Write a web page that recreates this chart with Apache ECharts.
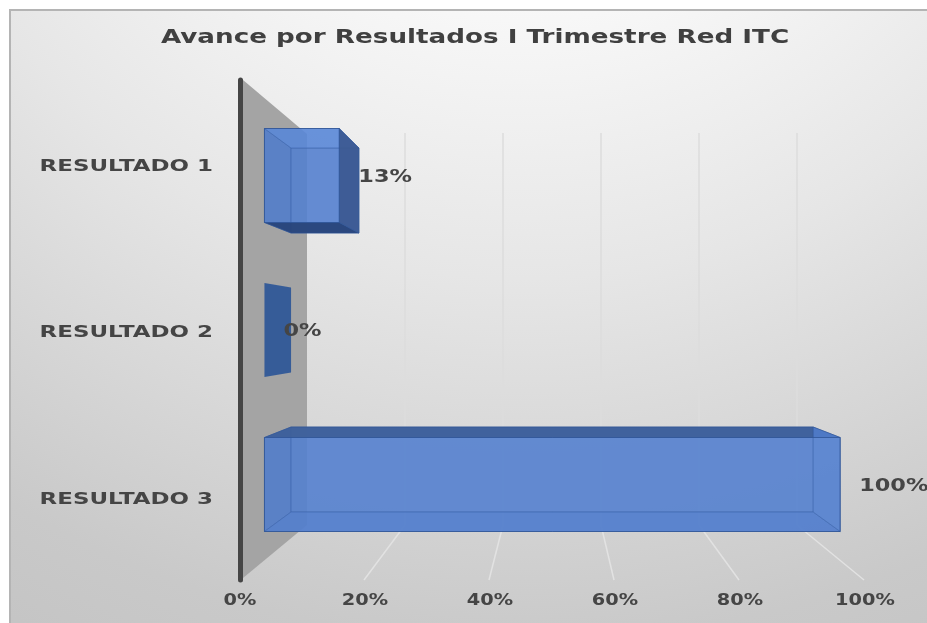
<!DOCTYPE html>
<html>
<head>
<meta charset="utf-8">
<style>html,body{margin:0;padding:0;background:#fff;overflow:hidden}#c{width:927px;height:623px}</style>
<script src="https://cdn.jsdelivr.net/npm/echarts@6/dist/echarts.min.js"></script>
</head>
<body>
<div id="c"></div>
<script>
const titleText = 'Avance por Resultados I Trimestre Red ITC';
const categories = ['RESULTADO 1', 'RESULTADO 2', 'RESULTADO 3'];
const values = [13, 0, 100];
const valueLabels = ['13%', '0%', '100%'];
const ticks = [0, 20, 40, 60, 80, 100];
const tickLabels = ['0%', '20%', '40%', '60%', '80%', '100%'];

const FONT = '"DejaVu Sans", sans-serif';
const INK = '#454545';
const NEAR = 0.365, FAR = 0.762;      // depth of the bar's two planes between front and back

function backX(px, c) { return c.x + 67 + (px - c.x) * 0.784; }
function depthX(px, c, t) { return px + (backX(px, c) - px) * t; }

function stretchedText(x, y, text, size, align, stretch) {
  return { type: 'text', x, y, scaleX: stretch, z2: 50,
    style: { text, x: 0, y: 0, fill: INK, font: 'bold ' + size + 'px ' + FONT,
      align: align, verticalAlign: 'middle' } };
}

function renderWall(params, api) {
  const c = params.coordSys;
  const x0 = c.x + 3, x1 = c.x + 67;
  return { type: 'polygon', silent: true,
    shape: { points: [[x0, c.y], [x1, c.y + 54], [x1, c.y + 445], [x0, c.y + c.height - 2]] },
    style: { fill: '#a4a4a4' } };
}

function renderFloorLine(params, api) {
  const c = params.coordSys;
  const px = api.coord([api.value(0), 0])[0];
  if (api.value(0) === 0) return { type: 'group', children: [] };
  return { type: 'line', silent: true,
    shape: { x1: backX(px, c), y1: c.y + 445, x2: px - 1, y2: c.y + c.height },
    style: { stroke: '#e2e2e2', lineWidth: 1.5 } };
}

function renderTickLabel(params, api) {
  const c = params.coordSys;
  const px = api.coord([api.value(0), 0])[0];
  return stretchedText(px, c.y + c.height + 21, tickLabels[params.dataIndex], 15, 'center', 1.29);
}

function renderCatLabel(params, api) {
  const c = params.coordSys;
  const p = api.coord([0, params.dataIndex]);
  return stretchedText(c.x - 27, p[1] + 3, categories[params.dataIndex], 16.5, 'right', 1.39);
}

function renderBar(params, api) {
  const c = params.coordSys;
  const v = api.value(0), cat = params.dataIndex;
  const start = api.coord([0, cat]), end = api.coord([v, cat]);
  const band = api.size([0, 1])[1];
  const midY = c.y + c.height / 2;
  const yAt = (k, h) => [midY + (start[1] - midY) * k - band * h, midY + (start[1] - midY) * k + band * h];
  const nearY = yAt(0.927, 0.282), farY = yAt(0.837, 0.255);
  const nl = depthX(start[0], c, NEAR), nr = depthX(end[0], c, NEAR);
  const fl = depthX(start[0], c, FAR), fr = depthX(end[0], c, FAR);
  const edge = 'rgba(47,85,151,0.55)';
  const face = (pts, fill, stroke) => ({ type: 'polygon', silent: true, shape: { points: pts },
    style: { fill, stroke: stroke || edge, lineWidth: 1 } });
  const kids = [];
  kids.push(face([[nl, nearY[0]], [fl, farY[0]], [fl, farY[1]], [nl, nearY[1]]],
    v ? 'rgba(72,116,196,0.8)' : 'rgba(48,88,152,0.95)', v ? null : 'rgba(0,0,0,0)'));
  if (v) {
    kids.push(face([[fl, farY[0]], [fr, farY[0]], [fr, farY[1]], [fl, farY[1]]], 'rgba(84,126,202,0.85)'));
    kids.push(face([[nl, nearY[1]], [nr, nearY[1]], [fr, farY[1]], [fl, farY[1]]],
      cat === 0 ? 'rgba(40,68,122,0.95)' : 'rgba(80,122,200,0.9)'));
    kids.push(face([[nl, nearY[0]], [nr, nearY[0]], [fr, farY[0]], [fl, farY[0]]],
      cat === 2 ? 'rgba(62,96,154,0.95)' : 'rgba(90,136,216,0.85)'));
    kids.push(face([[nr, nearY[0]], [fr, farY[0]], [fr, farY[1]], [nr, nearY[1]]],
      cat === 0 ? 'rgba(60,90,146,0.95)' : 'rgba(80,124,204,0.85)'));
    kids.push(face([[nl, nearY[0]], [nr, nearY[0]], [nr, nearY[1]], [nl, nearY[1]]],
      'rgba(90,134,214,0.35)', 'rgba(47,85,151,0.8)'));
  }
  kids.push(stretchedText(nr + 19, (nearY[0] + nearY[1]) / 2 + 1.5, valueLabels[cat], 17.5, 'left', 1.28));
  return { type: 'group', children: kids };
}

const chart = echarts.init(document.getElementById('c'), null, { renderer: 'canvas' });
chart.setOption({
  animation: false,
  backgroundColor: '#ffffff',
  graphic: [
    { type: 'rect', z: -10, silent: true, shape: { x: 10, y: 10, width: 930, height: 630 },
      style: { stroke: '#b4b4b4', lineWidth: 2,
        fill: { type: 'radial', x: 0.55, y: -0.6, r: 1.8, colorStops: [
          { offset: 0.33, color: '#f8f8f8' }, { offset: 0.57, color: '#e6e6e6' },
          { offset: 0.89, color: '#c9c9c9' }, { offset: 1, color: '#c4c4c4' } ] } } },
    { type: 'text', x: 475, y: 38, scaleX: 1.31, z: 10,
      style: { text: titleText, x: 0, y: 0, fill: '#404040', font: 'bold 20px ' + FONT, align: 'center', verticalAlign: 'middle' } }
  ],
  grid: [
    { left: 240, width: 625, top: 80, height: 500 },
    { left: 307, width: 490, top: 133, height: 392 }
  ],
  xAxis: [
    { type: 'value', gridIndex: 0, min: 0, max: 100, interval: 20,
      axisLine: { show: false }, axisTick: { show: false }, axisLabel: { show: false }, splitLine: { show: false } },
    { type: 'value', gridIndex: 1, min: 0, max: 100, interval: 20,
      axisLine: { show: false }, axisTick: { show: false }, axisLabel: { show: false },
      splitLine: { show: true, showMinLine: false, lineStyle: { color: '#dcdcdc', width: 1.5 } } }
  ],
  yAxis: [
    { type: 'category', gridIndex: 0, inverse: true, data: categories,
      axisLine: { show: true, onZero: false, lineStyle: { color: '#454545', width: 5 } },
      axisTick: { show: false }, axisLabel: { show: false }, splitLine: { show: false } },
    { type: 'category', gridIndex: 1, inverse: true, data: categories, show: false }
  ],
  series: [
    { type: 'custom', name: 'wall', coordinateSystem: 'cartesian2d', xAxisIndex: 0, yAxisIndex: 0, z: 1,
      silent: true, data: [[0, 0]], renderItem: renderWall, clip: false },
    { type: 'custom', name: 'floor', coordinateSystem: 'cartesian2d', xAxisIndex: 0, yAxisIndex: 0, z: 1,
      silent: true, data: ticks.map(t => [t, 0]), encode: { x: 0, y: 1 }, renderItem: renderFloorLine, clip: false },
    { type: 'custom', name: 'Avance', coordinateSystem: 'cartesian2d', xAxisIndex: 0, yAxisIndex: 0, z: 3,
      silent: true, data: values.map((v, i) => [v, i]), encode: { x: 0, y: 1 }, renderItem: renderBar, clip: false },
    { type: 'custom', name: 'tickLabels', coordinateSystem: 'cartesian2d', xAxisIndex: 0, yAxisIndex: 0, z: 4,
      silent: true, data: ticks.map(t => [t, 0]), encode: { x: 0, y: 1 }, renderItem: renderTickLabel, clip: false },
    { type: 'custom', name: 'catLabels', coordinateSystem: 'cartesian2d', xAxisIndex: 0, yAxisIndex: 0, z: 4,
      silent: true, data: categories.map((c, i) => [0, i]), encode: { x: 0, y: 1 }, renderItem: renderCatLabel, clip: false }
  ]
});
</script>
</body>
</html>
